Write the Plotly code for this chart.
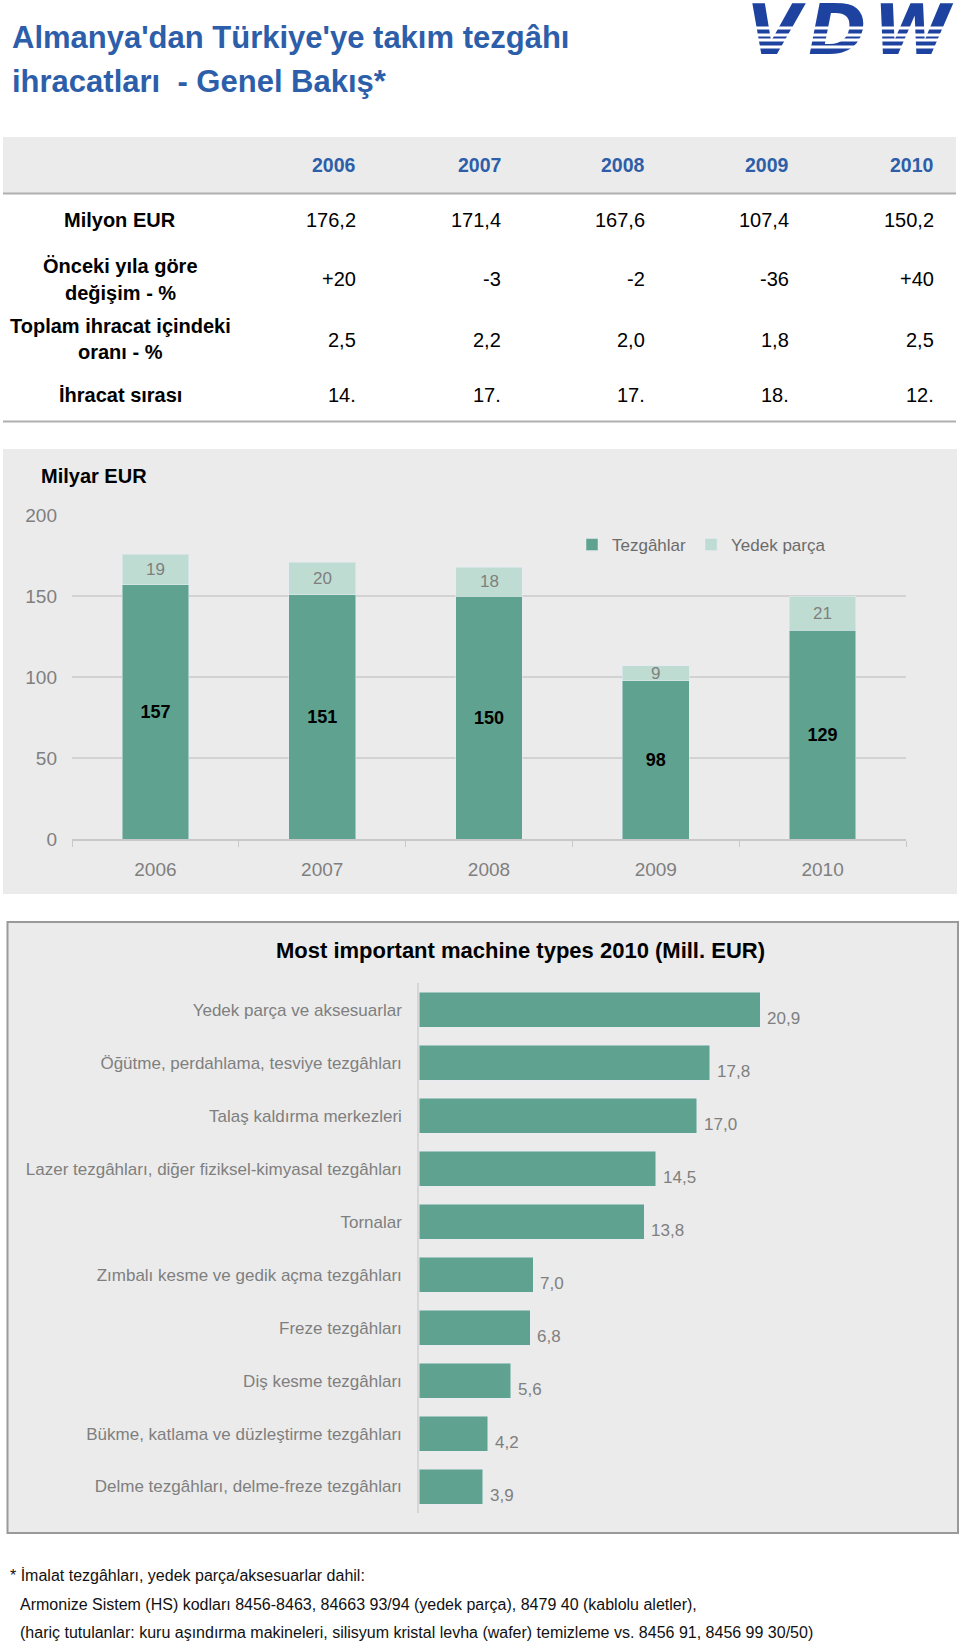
import plotly.graph_objects as go

# ---------------- data ----------------
years = ["2006", "2007", "2008", "2009", "2010"]
table_row_labels = ["Milyon EUR",
                    "Önceki yıla göre\ndeğişim - %",
                    "Toplam ihracat içindeki\noranı - %",
                    "İhracat sırası"]
milyon_eur = ["176,2", "171,4", "167,6", "107,4", "150,2"]
degisim = ["+20", "-3", "-2", "-36", "+40"]
oran = ["2,5", "2,2", "2,0", "1,8", "2,5"]
sira = ["14.", "17.", "17.", "18.", "12."]
table_rows = [milyon_eur, degisim, oran, sira]

tezgahlar = [157, 151, 150, 98, 129]
yedek_parca = [19, 20, 18, 9, 21]

machine_types = [
    "Yedek parça ve aksesuarlar",
    "Öğütme, perdahlama, tesviye tezgâhları",
    "Talaş kaldırma merkezleri",
    "Lazer tezgâhları, diğer fiziksel-kimyasal tezgâhları",
    "Tornalar",
    "Zımbalı kesme ve gedik açma tezgâhları",
    "Freze tezgâhları",
    "Diş kesme tezgâhları",
    "Bükme, katlama ve düzleştirme tezgâhları",
    "Delme tezgâhları, delme-freze tezgâhları",
]
machine_values = [20.9, 17.8, 17.0, 14.5, 13.8, 7.0, 6.8, 5.6, 4.2, 3.9]

footnote_lines = [
    "* İmalat tezgâhları, yedek parça/aksesuarlar dahil:",
    "Armonize Sistem (HS) kodları 8456-8463, 84663 93/94 (yedek parça), 8479 40 (kablolu aletler),",
    "(hariç tutulanlar: kuru aşındırma makineleri, silisyum kristal levha (wafer) temizleme vs. 8456 91, 8456 99 30/50)",
]

# ---------------- layout helpers ----------------
W, H = 960, 1644
FONT = "Liberation Sans, Arial, sans-serif"
def X(px): return px / W
def Y(py): return 1 - py / H

DARK = "#5fa28f"
LIGHT = "#bfdcd2"
PANEL = "#ebebeb"
GRAYTXT = "#7f7f7f"
BLUE = "#2d5ea9"

fig = go.Figure()

# stacked vertical bars
fig.add_trace(go.Bar(
    x=years, y=tezgahlar, name="Tezgâhlar", marker_color=DARK, width=0.4,
    text=[str(v) for v in tezgahlar], textposition="inside", insidetextanchor="middle",
    textangle=0, constraintext="none",
    textfont=dict(family=FONT, size=18, color="black", weight="bold"),
    xaxis="x", yaxis="y", hoverinfo="skip"))
fig.add_trace(go.Bar(
    x=years, y=yedek_parca, name="Yedek parça", marker_color=LIGHT, width=0.4,
    xaxis="x", yaxis="y", hoverinfo="skip"))

# horizontal bars
fig.add_trace(go.Bar(
    x=machine_values, y=machine_types, orientation="h", marker_color=DARK,
    width=0.66, showlegend=False, xaxis="x2", yaxis="y2", hoverinfo="skip"))

shapes = []
annotations = []

# ---- title ----
annotations.append(dict(xref="paper", yref="paper", x=X(10), y=Y(37), xanchor="left", yanchor="middle",
                        text="<b>Almanya'dan Türkiye'ye takım tezgâhı</b>", showarrow=False,
                        font=dict(family=FONT, size=31, color=BLUE)))
annotations.append(dict(xref="paper", yref="paper", x=X(10), y=Y(82), xanchor="left", yanchor="middle",
                        text="<b>ihracatları  - Genel Bakış*</b>", showarrow=False,
                        font=dict(family=FONT, size=31, color=BLUE)))
# ---- logo ----
annotations.append(dict(xref="paper", yref="paper", x=X(850), y=Y(29.5), xanchor="center", yanchor="middle",
                        text="<b><i>V\u200aD\u200aW</i></b>", showarrow=False,
                        font=dict(family="DejaVu Sans, sans-serif", size=70, color="#1e42a0")))
for sy in [28.5, 34.5, 40.5, 46.5]:
    annotations.append(dict(xref="paper", yref="paper", x=X(850), y=Y(sy), xanchor="center", yanchor="middle",
                            text=" ", showarrow=False, width=225, height=2, bgcolor="white", borderpad=0,
                            font=dict(size=1)))

# ---- table ----
shapes.append(dict(type="rect", xref="paper", yref="paper", x0=X(3), x1=X(956), y0=Y(193), y1=Y(137),
                   fillcolor=PANEL, line=dict(width=0), layer="below"))
shapes.append(dict(type="line", xref="paper", yref="paper", x0=X(3), x1=X(956), y0=Y(193.5), y1=Y(193.5),
                   line=dict(color="#b0b0b0", width=2)))
shapes.append(dict(type="line", xref="paper", yref="paper", x0=X(3), x1=X(956), y0=Y(421.5), y1=Y(421.5),
                   line=dict(color="#b0b0b0", width=2)))
col_right = [358, 503, 647, 791, 936]
for yr, cx in zip(years, col_right):
    annotations.append(dict(xref="paper", yref="paper", x=X(cx), y=Y(165), xanchor="right", yanchor="middle",
                            text=f"<b>{yr}</b>", showarrow=False,
                            font=dict(family=FONT, size=19.5, color=BLUE)))
row_value_y = [220, 279, 339.5, 395]
row_label_y = [[220], [266.5, 293], [326.5, 352.5], [395]]
for lab, ly_list, vy, vals in zip(table_row_labels, row_label_y, row_value_y, table_rows):
    for part, ly in zip(lab.split("\n"), ly_list):
        annotations.append(dict(xref="paper", yref="paper", x=X(120), y=Y(ly), xanchor="center", yanchor="middle",
                                text=f"<b>{part}</b>", showarrow=False,
                                font=dict(family=FONT, size=20, color="black")))
    for v, cx in zip(vals, col_right):
        annotations.append(dict(xref="paper", yref="paper", x=X(cx), y=Y(vy), xanchor="right", yanchor="middle",
                                text=v, showarrow=False,
                                font=dict(family=FONT, size=20, color="black")))

# ---- vertical bar chart panel ----
shapes.append(dict(type="rect", xref="paper", yref="paper", x0=X(3), x1=X(957), y0=Y(894), y1=Y(449),
                   fillcolor=PANEL, line=dict(width=0), layer="below"))
annotations.append(dict(xref="paper", yref="paper", x=X(39), y=Y(476), xanchor="left", yanchor="middle",
                        text="<b>Milyar EUR</b>", showarrow=False,
                        font=dict(family=FONT, size=20, color="black")))
# category axes take serial numbers for annotation positions
for i, (d, l) in enumerate(zip(tezgahlar, yedek_parca)):
    annotations.append(dict(xref="x", yref="y", x=i, y=d + l / 2, xanchor="center", yanchor="middle",
                            text=str(l), showarrow=False,
                            font=dict(family=FONT, size=17, color=GRAYTXT)))

# ---- horizontal bar chart panel ----
shapes.append(dict(type="rect", xref="paper", yref="paper", x0=X(7.5), x1=X(958), y0=Y(1533), y1=Y(922),
                   fillcolor=PANEL, line=dict(color="#9a9a9a", width=2), layer="below"))
annotations.append(dict(xref="paper", yref="paper", x=X(520), y=Y(950), xanchor="center", yanchor="middle",
                        text="<b>Most important machine types 2010 (Mill. EUR)</b>", showarrow=False,
                        font=dict(family=FONT, size=22, color="black")))
for i, v in enumerate(machine_values):
    annotations.append(dict(xref="x2", yref="y2", x=v, y=i, xanchor="left", yanchor="middle",
                            xshift=5, yshift=-8.5, text=f"{v:.1f}".replace(".", ","), showarrow=False,
                            font=dict(family=FONT, size=17, color=GRAYTXT)))

# ---- footnote ----
for i, (line, ly) in enumerate(zip(footnote_lines, [1575, 1604.5, 1632])):
    annotations.append(dict(xref="paper", yref="paper", x=X(8 if i == 0 else 17.5), y=Y(ly),
                            xanchor="left", yanchor="middle", text=line, showarrow=False,
                            font=dict(family=FONT, size=16, color="#111111")))

fig.update_layout(
    width=W, height=H, margin=dict(l=0, r=0, t=0, b=0, pad=0, autoexpand=False),
    paper_bgcolor="white", plot_bgcolor="rgba(0,0,0,0)",
    barmode="stack",
    font=dict(family=FONT),
    showlegend=True,
    legend=dict(orientation="h", x=X(572), y=Y(545), xanchor="left", yanchor="middle",
                bgcolor="rgba(0,0,0,0)", font=dict(family=FONT, size=17, color="#6b6b6b"),
                itemwidth=30, traceorder="normal"),
    xaxis=dict(domain=[X(72), X(906)], anchor="y", type="category",
               categoryorder="array", categoryarray=years, automargin=False,
               tickson="boundaries", ticks="outside", ticklen=6, tickcolor="#c8c8c8",
               showline=True, linecolor="#c8c8c8", linewidth=1.5, showgrid=False,
               tickfont=dict(family=FONT, size=19, color=GRAYTXT), ticklabelstandoff=12),
    yaxis=dict(domain=[Y(839.3), Y(514.5)], anchor="x", range=[0, 200.5], tickvals=[0, 50, 100, 150, 200],
               automargin=False,
               showgrid=True, gridcolor="#d2d2d2", gridwidth=1.5, zeroline=False, showline=False,
               ticks="", tickfont=dict(family=FONT, size=19, color=GRAYTXT), ticklabelstandoff=14),
    xaxis2=dict(domain=[X(419), X(950)], anchor="y2", range=[0, 32.5], visible=False, automargin=False),
    yaxis2=dict(domain=[Y(1513), Y(983.3)], anchor="x2", type="category", automargin=False,
                categoryorder="array", categoryarray=machine_types, autorange="reversed",
                showline=True, linecolor="#d6d6d6", linewidth=1.5, showgrid=False, ticks="",
                tickfont=dict(family=FONT, size=17, color=GRAYTXT), ticklabelstandoff=12),
    shapes=shapes,
    annotations=annotations,
)

fig.write_html("out.html", config={"displayModeBar": False},
               post_script="document.body.style.margin='0px';document.body.style.overflow='hidden';")
